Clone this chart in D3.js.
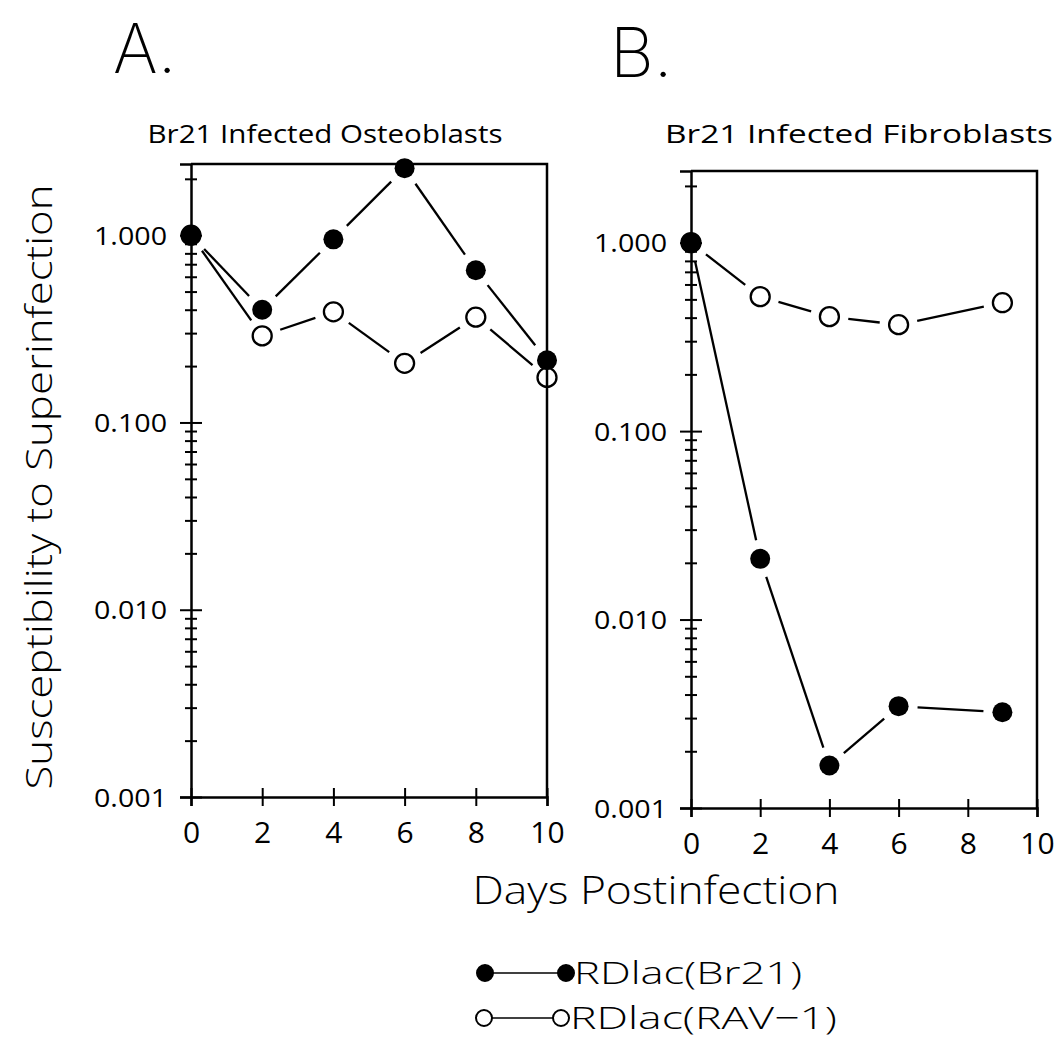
<!DOCTYPE html>
<html lang="en">
<head>
<meta charset="utf-8">
<title>Susceptibility to Superinfection</title>
<script src="https://cdn.jsdelivr.net/npm/d3@7"></script>
<style>
  body { margin: 0; background: #fff; }
  text { font-family: "Open Sans", "DejaVu Sans", sans-serif; fill: #000; }
</style>
</head>
<body>
<script>
// data
var daysA = [0, 2, 4, 6, 8, 10];
var osteoBr21 = [1.0, 0.40, 0.95, 2.28, 0.65, 0.215];
var osteoRAV = [1.0, 0.29, 0.39, 0.207, 0.365, 0.174];

var daysB = [0, 2, 4, 6, 9];
var fibroBr21 = [1.0, 0.021, 0.00168, 0.00347, 0.00322];
var fibroRAV = [1.0, 0.517, 0.405, 0.367, 0.48];

var xTicks = [0, 2, 4, 6, 8, 10];
var yTicks = [0.001, 0.01, 0.1, 1];
var yTickLabels = ["0.001", "0.010", "0.100", "1.000"];
var panelLetters = ["A.", "B."];
var panelTitles = ["Br21 Infected Osteoblasts", "Br21 Infected Fibroblasts"];
var seriesNames = ["RDlac(Br21)", "RDlac(RAV\u22121)"];

var W = 1058, H = 1053;
var svg = d3.select("body").append("svg")
    .attr("width", W)
    .attr("height", H);

// minor log ticks 2..9 per decade
var minorTicks = [];
yTicks.forEach(function(d) {
    for (var k = 2; k <= 9; k++) {
        if (k * d <= 2.4) minorTicks.push(k * d);
    }
});

var panels = [
    {left: 191, right: 547, top: 164, bottom: 797, days: daysA, filled: osteoBr21, open: osteoRAV,
     letterX: 113, letterY: 73, titleX: 325, titleW: 355},
    {left: 691, right: 1037, top: 171, bottom: 808, days: daysB, filled: fibroBr21, open: fibroRAV,
     letterX: 610, letterY: 77, titleX: 859, titleW: 388}
];

var GAP = 19;  // line segments stop short of the markers

function segments(g, x, y, xs, ys, width) {
    for (var i = 0; i < xs.length - 1; i++) {
        var x0 = x(xs[i]), y0 = y(ys[i]), x1 = x(xs[i + 1]), y1 = y(ys[i + 1]);
        var dx = x1 - x0, dy = y1 - y0, len = Math.sqrt(dx * dx + dy * dy);
        var ux = dx / len, uy = dy / len;
        g.append("line")
            .attr("x1", x0 + ux * GAP).attr("y1", y0 + uy * GAP)
            .attr("x2", x1 - ux * GAP).attr("y2", y1 - uy * GAP)
            .attr("stroke", "#000")
            .attr("stroke-width", width);
    }
}

panels.forEach(function(p, idx) {
    var x = d3.scaleLinear().domain([0, 10]).range([p.left, p.right]);
    var y = d3.scaleLog().domain([0.001, 2.4]).range([p.bottom, p.top]);

    var g = svg.append("g");

    // frame: top and right
    g.append("path")
        .attr("d", "M" + p.left + "," + p.top + "H" + p.right + "V" + p.bottom)
        .attr("fill", "none")
        .attr("stroke", "#000")
        .attr("stroke-width", 2.5);

    // y axis, major ticks
    var yAxis = g.append("g")
        .attr("transform", "translate(" + p.left + ",0)")
        .call(d3.axisLeft(y).tickValues(yTicks).tickSize(11)
            .tickFormat(function(d, i) { return yTickLabels[i]; }));
    yAxis.select(".domain").attr("stroke-width", 2.5);
    yAxis.selectAll(".tick line").attr("x2", -11).attr("x1", 11).attr("stroke-width", 2);
    yAxis.selectAll(".tick text")
        .attr("x", -24)
        .attr("dy", "0.36em")
        .attr("textLength", 73)
        .attr("lengthAdjust", "spacingAndGlyphs")
        .style("font-size", "25px")
        .style("font-family", "'Open Sans', sans-serif");

    // y axis, minor ticks
    var yMinor = g.append("g")
        .attr("transform", "translate(" + p.left + ",0)")
        .call(d3.axisLeft(y).tickValues(minorTicks).tickSize(6).tickFormat(""));
    yMinor.select(".domain").remove();
    yMinor.selectAll(".tick line").attr("x2", -6).attr("x1", 6).attr("stroke-width", 2);

    // x axis
    var xAxis = g.append("g")
        .attr("transform", "translate(0," + p.bottom + ")")
        .call(d3.axisBottom(x).tickValues(xTicks).tickSize(9));
    xAxis.select(".domain").attr("stroke-width", 2.5);
    xAxis.selectAll(".tick line").attr("y1", -9).attr("y2", 9).attr("stroke-width", 2);
    xAxis.selectAll(".tick text")
        .attr("y", 46)
        .attr("dy", "0")
        .style("font-size", "30px")
        .style("font-family", "'Open Sans', sans-serif");

    // connecting lines
    segments(g, x, y, p.days, p.filled, 2.3);
    segments(g, x, y, p.days, p.open, 2.3);

    // open markers (unfilled), then filled markers on top
    g.selectAll(".open").data(p.open).enter().append("circle")
        .attr("cx", function(d, i) { return x(p.days[i]); })
        .attr("cy", function(d) { return y(d); })
        .attr("r", 9.5)
        .attr("fill", "none")
        .attr("stroke", "#000")
        .attr("stroke-width", 2.3);
    g.selectAll(".filled").data(p.filled).enter().append("circle")
        .attr("cx", function(d, i) { return x(p.days[i]); })
        .attr("cy", function(d) { return y(d); })
        .attr("r", 10)
        .attr("fill", "#000");

    // panel letter and title
    svg.append("text")
        .attr("x", p.letterX)
        .attr("y", p.letterY)
        .style("font-size", "68px")
        .style("font-weight", 200)
        .style("font-family", "Inter, 'Open Sans', sans-serif")
        .text(panelLetters[idx]);
    svg.append("text")
        .attr("x", p.titleX)
        .attr("y", 143)
        .attr("text-anchor", "middle")
        .attr("textLength", p.titleW)
        .attr("lengthAdjust", "spacingAndGlyphs")
        .style("font-size", "26px")
        .style("font-weight", 500)
        .text(panelTitles[idx]);
});

// axis titles
svg.append("text")
    .attr("transform", "translate(52,487) rotate(-90)")
    .attr("text-anchor", "middle")
    .attr("textLength", 605)
    .attr("lengthAdjust", "spacingAndGlyphs")
    .style("font-size", "37px")
    .style("font-weight", 300)
    .text("Susceptibility to Superinfection");

svg.append("text")
    .attr("x", 656)
    .attr("y", 904)
    .attr("text-anchor", "middle")
    .attr("textLength", 367)
    .attr("lengthAdjust", "spacingAndGlyphs")
    .style("font-size", "39px")
    .style("font-weight", 300)
    .text("Days Postinfection");

// legend
var legend = svg.append("g");
var legendRows = [
    {y: 973, x0: 485, x1: 566, fill: "#000", textX: 574, textW: 228},
    {y: 1018, x0: 484, x1: 561, fill: "none", textX: 570, textW: 267}
];
legendRows.forEach(function(r, i) {
    legend.append("line")
        .attr("x1", r.x0).attr("x2", r.x1)
        .attr("y1", r.y).attr("y2", r.y)
        .attr("stroke", "#000").attr("stroke-width", 1.6);
    [r.x0, r.x1].forEach(function(cx) {
        legend.append("circle")
            .attr("cx", cx).attr("cy", r.y)
            .attr("r", 8)
            .attr("fill", r.fill === "none" ? "#fff" : "#000")
            .attr("stroke", "#000")
            .attr("stroke-width", 2);
    });
    legend.append("text")
        .attr("x", r.textX)
        .attr("y", r.y + 11)
        .attr("textLength", r.textW)
        .attr("lengthAdjust", "spacingAndGlyphs")
        .style("font-size", "32px")
        .style("font-weight", 300)
        .text(seriesNames[i]);
});
</script>
</body>
</html>
